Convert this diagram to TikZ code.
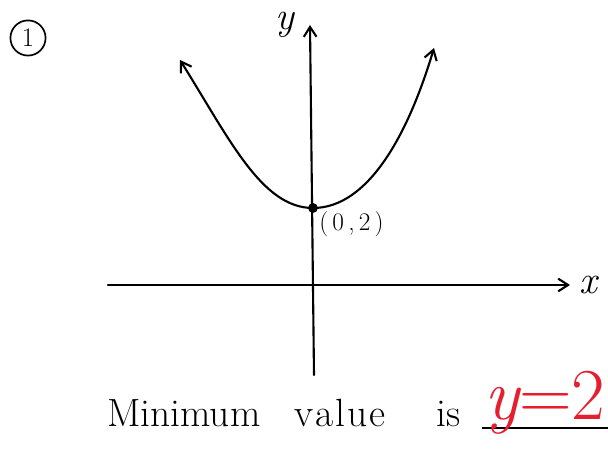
\documentclass[tikz,border=0pt]{standalone}
\usepackage{fontspec}
\usetikzlibrary{arrows.meta}

\definecolor{inkred}{RGB}{228,32,48}

\begin{document}
\begin{tikzpicture}[x=0.025cm, y=-0.025cm, >={Straight Barb[length=7pt, width=9pt]},
    ink/.style={line width=1.5pt, line cap=round},
    hand/.style={inner sep=0pt, font=\fontsize{28}{30}\selectfont}]
        \useasboundingbox (0,0) rectangle (608,458);

        % Question number
        \node[draw, circle, ink, line width=1.2pt, minimum size=25pt, inner sep=0pt,
              font=\fontsize{19}{20}\selectfont] (qnum) at (28,38) {1};

        % Axes
        \coordinate (xl) at (108,285);
        \coordinate (xr) at (570,285);
        \coordinate (yb) at (314,375);
        \coordinate (yt) at (310,25);
        \draw[ink, ->] (xl) -- (xr);
        \draw[ink, ->] (yb) -- (yt);
        \node[hand, anchor=base] (xlab) at (588,294) {\itshape x};
        \node[hand, anchor=base] (ylab) at (285,30) {\itshape y};

        % The curve
        \draw[ink, <-] (180,60) .. controls (230,140) and (262,208) .. (313,208);
        \draw[ink, ->] (313,208) .. controls (368,208) and (408,135) .. (434,48);
        \fill (313,208) circle (3.5pt);
        \node[hand, font=\fontsize{18}{20}\selectfont, anchor=west] (vlab) at (319,224)
            {(\,0\,,\,2\,)};

        % Answer line
        \node[hand, font=\fontsize{28}{30}\selectfont, anchor=base west] (ans) at (107,427)
            {Minimum\hspace{24pt}v\kern1.5pt a\kern1.5pt l\kern1.5pt u\kern1.5pt e\hspace{36pt}is};
        \coordinate (ul) at (482,428);
        \coordinate (ur) at (608,428);
        \draw[line width=1.2pt] (ul) -- (ur);
        \node[inner sep=0pt, anchor=base, text=inkred, font=\fontsize{52}{56}\selectfont]
            (res) at (545,420) {\itshape y\upshape =2};
      \end{tikzpicture}
\end{document}
